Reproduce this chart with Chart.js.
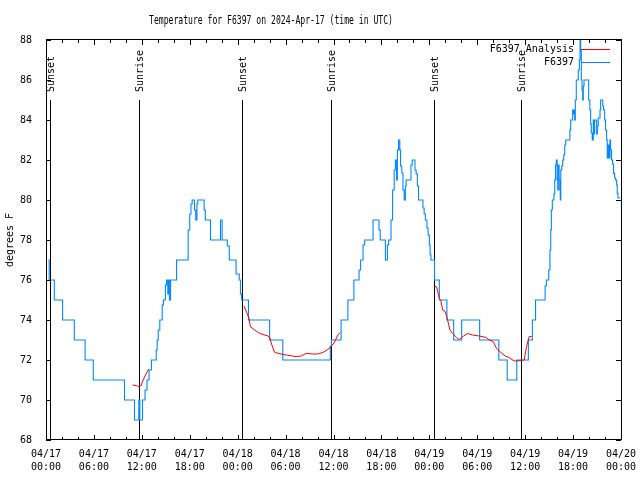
<!DOCTYPE html>
<html>
<head>
<meta charset="utf-8">
<script src="https://cdn.jsdelivr.net/npm/chart.js@4.4.1/dist/chart.umd.min.js"></script>
<style>
  html, body { margin: 0; padding: 0; background: #fff; }
  #wrap { width: 640px; height: 480px; }
</style>
</head>
<body>
<div id="wrap"><canvas id="tempChart" width="640" height="480"></canvas></div>
<script>
// ========================== DATA ==============================
const titleText = 'Temperature for F6397 on 2024-Apr-17 (time in UTC)';
const yAxisLabel = 'degrees F';
const stationName = 'F6397';
const analysisName = 'F6397_Analysis';

// x axis = hours since 04/17 00:00 UTC
const xTickLabels = [
  ['04/17', '00:00'], ['04/17', '06:00'], ['04/17', '12:00'], ['04/17', '18:00'],
  ['04/18', '00:00'], ['04/18', '06:00'], ['04/18', '12:00'], ['04/18', '18:00'],
  ['04/19', '00:00'], ['04/19', '06:00'], ['04/19', '12:00'], ['04/19', '18:00'],
  ['04/20', '00:00']
];

// station reading: each value holds until the next time
const stationHours = [
  0.29, 0.4, 1.04, 2.08, 3.54, 4.9, 5.92, 9.83, 11.08, 11.62, 11.75, 12.08, 12.4, 12.65, 12.9,
  13.2, 13.8, 13.92, 14.05, 14.25, 14.55, 14.7, 14.95, 15.1, 15.25, 15.35, 15.45, 15.6, 16.35,
  17.8, 18.0, 18.15, 18.3, 18.6, 18.75, 18.9, 19.0, 19.8, 19.95, 20.6, 21.85, 22.05, 22.7, 22.95,
  23.8, 24.2, 24.35, 24.5, 25.35, 28.0, 29.65, 35.6, 35.75, 36.95, 37.8, 38.55, 39.2, 39.4, 39.7,
  39.9, 40.95, 41.7, 41.85, 42.5, 42.75, 42.9, 43.2, 43.4, 43.6, 43.75, 43.9, 44.0, 44.15, 44.3,
  44.4, 44.55, 44.7, 44.85, 45.0, 45.1, 45.7, 45.85, 46.2, 46.35, 46.5, 46.65, 47.2, 47.35, 47.5,
  47.7, 47.85, 48.0, 48.1, 48.2, 48.65, 49.25, 50.2, 51.05, 52.05, 54.3, 56.7, 57.75, 58.95, 60.4,
  60.9, 61.3, 62.5, 62.65, 62.95, 63.1, 63.2, 63.28, 63.4, 63.6, 63.7, 63.8, 63.9, 64.0, 64.08,
  64.15, 64.25, 64.33, 64.4, 64.46, 64.58, 64.7, 64.83, 64.95, 65.08, 65.6, 65.7, 65.95, 66.04,
  66.12, 66.2, 66.28, 66.4, 66.65, 66.78, 66.87, 66.95, 67.03, 67.12, 67.2, 67.28, 67.37, 67.95,
  68.1, 68.2, 68.28, 68.4, 68.53, 68.62, 68.7, 68.95, 69.04, 69.15, 69.37, 69.45, 69.72, 69.82,
  69.95, 70.07, 70.2, 70.28, 70.4, 70.52, 70.62, 70.7, 70.82, 70.95, 71.07, 71.2, 71.32, 71.45,
  71.53, 71.62, 71.9
];
const stationTemps = [
  77, 76, 75, 74, 73, 72, 71, 70, 69, 70, 69, 70, 70.5, 71, 71.5,
  72, 72.5, 73, 73.5, 74, 74.75, 75, 75.75, 76, 75.3, 76, 75, 76, 77,
  78.5, 79.3, 79.8, 80, 79.5, 79, 79.8, 80, 79.5, 79, 78, 79, 78, 77.7, 77,
  76.3, 76, 75.3, 75, 74, 73, 72, 72.7, 73, 74, 75, 76, 76.5, 77, 77.75,
  78, 79, 78.5, 78, 77, 77.75, 78, 79, 80.5, 81.5, 82, 81, 82.5, 83, 82.5,
  81.7, 81.35, 80.5, 80, 80.7, 81, 81.75, 82, 81.5, 81.3, 80.7, 80, 79.6, 79.3, 79,
  78.6, 78.25, 77.75, 77.25, 77, 76, 75, 74, 73, 74, 73, 72, 71, 72, 73,
  74, 75, 75.7, 76, 76.5, 77.5, 78.5, 79.5, 80, 80.3, 81, 81.75, 82, 81, 80.5,
  81.75, 81, 80.5, 80, 81.5, 81.7, 82, 82.25, 82.75, 83, 83.5, 84, 84.5, 84.3,
  84.5, 84, 85, 86, 86.5, 87, 88, 87.5, 86, 85.5, 85, 85.7, 86, 85,
  84.5, 83.8, 83.35, 83, 84, 83.3, 84, 83.3, 83.7, 84.1, 84.5, 85, 84.7, 84.5,
  84, 83.5, 83, 82.1, 82.75, 82.1, 83, 82.5, 82, 81.8, 81.33, 81.1, 81, 80.75,
  80.33, 80.1, 80.1
];

// analysis: null breaks the line between runs
const analysisHours = [
  10.83, 11.33, 11.62, 11.87, 12.17, 12.46, 12.87,
  12.9,
  24.79, 25.42, 25.58, 26.13, 26.75, 27.8, 28.0, 28.2, 28.6, 29.04, 30.08, 31.33, 31.96,
  32.58, 33.42, 34.04, 34.67, 35.3, 35.7, 36.13, 36.54, 36.83,
  36.9,
  48.63, 48.92, 49.25, 49.46, 49.67, 50.0, 50.29, 50.58, 50.92, 51.42, 51.75, 52.29, 52.79,
  53.42, 54.25, 55.08, 55.5, 56.0, 56.42, 56.83, 57.5, 58.0, 58.63, 59.25, 59.88, 60.17,
  60.5, 60.83
];
const analysisTemps = [
  70.75, 70.72, 70.67, 70.7, 71.0, 71.25, 71.55,
  null,
  74.7, 74.1, 73.67, 73.5, 73.33, 73.2, 73.15, 72.85, 72.4, 72.33, 72.25, 72.17, 72.2,
  72.33, 72.3, 72.3, 72.38, 72.53, 72.67, 72.9, 73.25, 73.37,
  null,
  75.7, 75.65, 75.08, 74.95, 74.5, 74.42, 74.0, 73.5, 73.33, 73.12, 73.03, 73.2, 73.33,
  73.25, 73.2, 73.13, 73.0, 72.92, 72.58, 72.42, 72.2, 72.12, 71.95, 71.97, 72.0, 72.67,
  73.17, 73.17
];

const sunEventHours = [0.54, 11.67, 24.54, 35.7, 48.54, 59.5];
const sunEventNames = ['Sunset', 'Sunrise', 'Sunset', 'Sunrise', 'Sunset', 'Sunrise'];
const sunLineTop = 85;

// ========================== STYLE =============================
const MONO = "'DejaVu Sans Mono', 'Liberation Mono', monospace";
const STATION_COLOR = 'rgb(0,136,255)';
const ANALYSIS_COLOR = '#ff0000';

// ========================== PLUGINS ===========================
const frameTicks = {
  id: 'frameTicks',
  afterDraw(chart) {
    const { ctx, chartArea: a, scales: { x, y } } = chart;
    ctx.save();
    ctx.strokeStyle = '#000';
    ctx.lineWidth = 1;
    ctx.beginPath();
    for (let h = 0; h <= 72; h += 2) {
      const px = Math.round(x.getPixelForValue(h)) + 0.5;
      const len = h % 6 === 0 ? 5 : 3;
      ctx.moveTo(px, a.bottom); ctx.lineTo(px, a.bottom - len);
      ctx.moveTo(px, a.top); ctx.lineTo(px, a.top + len);
    }
    for (let v = 68; v <= 88; v += 2) {
      const py = Math.round(y.getPixelForValue(v)) + 0.5;
      ctx.moveTo(a.left, py); ctx.lineTo(a.left + 5, py);
      ctx.moveTo(a.right, py); ctx.lineTo(a.right - 5, py);
    }
    ctx.stroke();
    ctx.strokeRect(Math.round(a.left) + 0.5, Math.round(a.top) - 0.5,
      Math.round(a.right - a.left), Math.round(a.bottom - a.top));
    ctx.restore();
  }
};

const sunLines = {
  id: 'sunLines',
  beforeDatasetsDraw(chart) {
    const { ctx, chartArea: a, scales: { x, y } } = chart;
    const top = y.getPixelForValue(sunLineTop);
    ctx.save();
    ctx.strokeStyle = '#000';
    ctx.lineWidth = 1;
    ctx.fillStyle = '#000';
    ctx.font = '10px ' + MONO;
    sunEventHours.forEach((h, i) => {
      const px = Math.round(x.getPixelForValue(h)) + 0.5;
      ctx.beginPath();
      ctx.moveTo(px, a.bottom);
      ctx.lineTo(px, top);
      ctx.stroke();
      ctx.save();
      ctx.translate(px + 1, top - 8);
      ctx.rotate(-Math.PI / 2);
      ctx.textAlign = 'left';
      ctx.textBaseline = 'middle';
      ctx.fillText(sunEventNames[i], 0, 0);
      ctx.restore();
    });
    ctx.restore();
  }
};

const textBits = {
  id: 'textBits',
  afterDraw(chart) {
    const { ctx } = chart;
    ctx.save();
    ctx.fillStyle = '#000';

    // title, narrow like the gnuplot font
    ctx.font = '12px ' + MONO;
    const w = ctx.measureText(titleText).width;
    ctx.save();
    ctx.translate(149, 24);
    ctx.scale(244 / w, 1);
    ctx.textAlign = 'left';
    ctx.textBaseline = 'alphabetic';
    ctx.fillText(titleText, 0, 0);
    ctx.restore();

    // y axis label
    ctx.font = '10px ' + MONO;
    ctx.save();
    ctx.translate(10, 240);
    ctx.rotate(-Math.PI / 2);
    ctx.textAlign = 'center';
    ctx.textBaseline = 'middle';
    ctx.fillText(yAxisLabel, 0, 0);
    ctx.restore();

    // key, top right
    const keys = [[analysisName, ANALYSIS_COLOR, 49.5], [stationName, STATION_COLOR, 62.5]];
    ctx.textAlign = 'right';
    ctx.textBaseline = 'middle';
    keys.forEach(([label, color, ky]) => {
      ctx.fillStyle = '#000';
      ctx.fillText(label, 574, ky);
      ctx.strokeStyle = color;
      ctx.lineWidth = 1;
      ctx.beginPath();
      ctx.moveTo(581, ky);
      ctx.lineTo(610, ky);
      ctx.stroke();
    });
    ctx.restore();
  }
};

// ========================== CHART =============================
new Chart(document.getElementById('tempChart'), {
  type: 'line',
  data: {
    datasets: [
      {
        label: analysisName,
        data: analysisHours.map((h, i) => ({ x: h, y: analysisTemps[i] })),
        borderColor: ANALYSIS_COLOR,
        borderWidth: 1,
        pointRadius: 0,
        spanGaps: false,
        tension: 0
      },
      {
        label: stationName,
        data: stationHours.map((h, i) => ({ x: h, y: stationTemps[i] })),
        borderColor: STATION_COLOR,
        borderWidth: 1.1,
        pointRadius: 0,
        stepped: 'before'
      }
    ]
  },
  options: {
    responsive: false,
    animation: false,
    events: [],
    layout: { padding: { top: 40, right: 19, left: 0, bottom: 0 } },
    plugins: {
      legend: { display: false },
      tooltip: { enabled: false },
      title: { display: false }
    },
    scales: {
      x: {
        type: 'linear',
        min: 0,
        max: 72,
        afterFit: s => { s.height = 40; s.paddingLeft = 0; s.paddingRight = 0; },
        grid: { display: false, drawTicks: false },
        border: { display: false },
        ticks: {
          stepSize: 6,
          autoSkip: false,
          maxRotation: 0,
          padding: 8,
          color: '#000',
          font: { family: MONO, size: 10, lineHeight: 1.3 },
          callback: v => xTickLabels[Math.round(v / 6)]
        }
      },
      y: {
        min: 68,
        max: 88,
        afterFit: s => { s.width = 46; s.paddingTop = 0; s.paddingBottom = 0; },
        grid: { display: false, drawTicks: false },
        border: { display: false },
        ticks: {
          stepSize: 2,
          padding: 14,
          color: '#000',
          font: { family: MONO, size: 10 },
          callback: v => String(v)
        }
      }
    }
  },
  plugins: [sunLines, frameTicks, textBits]
});
</script>
</body>
</html>
